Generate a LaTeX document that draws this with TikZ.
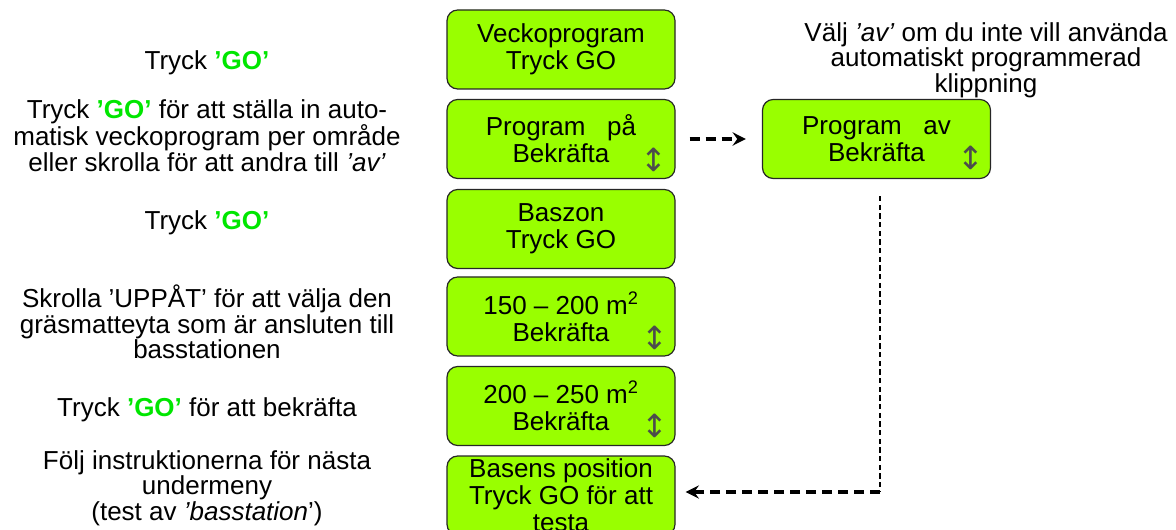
\documentclass[tikz,border=0pt]{standalone}
\usepackage{fontspec}
\setmainfont{Liberation Sans}
\newfontfamily\arrowfont{DejaVu Sans}
\usetikzlibrary{calc,arrows.meta}
\definecolor{menugreen}{RGB}{153,255,0}
\definecolor{gogreen}{RGB}{0,230,0}
\newcommand{\GOkey}{\textbf{\textcolor{gogreen}{’GO’}}}
\tikzset{
    menubox/.style={draw=black!85, fill=menugreen, line width=0.9pt, rounded corners=8pt,
        minimum width=171pt, minimum height=59.25pt, inner sep=0pt, align=center,
        font=\fontsize{19.5}{20.25}\selectfont},
    helptext/.style={align=center, inner sep=0pt, font=\fontsize{19.5}{19.2}\selectfont},
    scrollmark/.style={inner sep=0pt, text=black!70, font=\arrowfont\fontsize{24}{24}\selectfont},
    dasharrow/.style={line width=2.4pt, dash pattern=on 7.5pt off 4.5pt,
        -{Stealth[length=10pt,width=10pt,inset=3.5pt]}},
    thindash/.style={line width=0.8pt, dash pattern=on 4pt off 2.5pt}
}

\begin{document}
\begin{tikzpicture}[x=0.75pt, y=-0.75pt]
    \useasboundingbox (0,0) rectangle (1176,530);
    \clip (0,0) rectangle (1176,530);
    \begin{scope}
        \node[menubox] (veckoprog) at (561,49.5) {Veckoprogram\\Tryck GO};
        \node[menubox] (progpa) at (561,139) {Program\ \ \ på\\Bekräfta};
        \node[menubox] (baszon) at (561,229) {Baszon\\Tryck GO};
        \node[menubox] (yta150) at (561,316.5) {150 – 200 m\textsuperscript{2}\\Bekräfta};
        \node[menubox] (yta200) at (561,406) {200 – 250 m\textsuperscript{2}\\Bekräfta};
        \node[menubox] (basepos) at (561,495.5) {Basens position\\Tryck GO för att\\testa};
        \node[menubox] (progav) at (876.5,139) {Program\ \ \ av\\Bekräfta};
        \node[scrollmark] at ($(progpa.south east)+(-22,-19)$) {↕};
        \node[scrollmark] at ($(yta150.south east)+(-21,-19)$) {↕};
        \node[scrollmark] at ($(yta200.south east)+(-21,-20)$) {↕};
        \node[scrollmark] at ($(progav.south east)+(-20,-21)$) {↕};
    \end{scope}
    \node[helptext] (hjalp1) at (207,62.7) {Tryck \GOkey};
    \node[helptext] (hjalp2) at (207,135.5)
        {Tryck \GOkey{} för att ställa in auto-\\matisk veckoprogram per område\\eller skrolla för att andra till \textit{’av’}};
    \node[helptext] (hjalp3) at (207,222.7) {Tryck \GOkey};
    \node[helptext] (hjalp4) at (207,322)
        {Skrolla ’UPPÅT’ för att välja den\\gräsmatteyta som är ansluten till\\basstationen};
    \node[helptext] (hjalp5) at (207,410) {Tryck \GOkey{} för att bekräfta};
    \node[helptext] (hjalp6) at (207,488)
        {Följ instruktionerna för nästa\\undermeny\\(test av \textit{’basstation}’)};
    \node[helptext] (hjalpav) at (986,60)
        {Välj \textit{’av’} om du inte vill använda\\automatiskt programmerad\\klippning};
    \coordinate (bend) at (880,492);
    \draw[dasharrow, shorten <=10.5pt, shorten >=12pt] (progpa) -- (progav);
    \draw[thindash, shorten <=12.75pt] (bend |- progav.south) -- (bend);
    \draw[dasharrow, shorten >=7.5pt] (bend) -- (bend -| basepos.east);
\end{tikzpicture}
\end{document}
